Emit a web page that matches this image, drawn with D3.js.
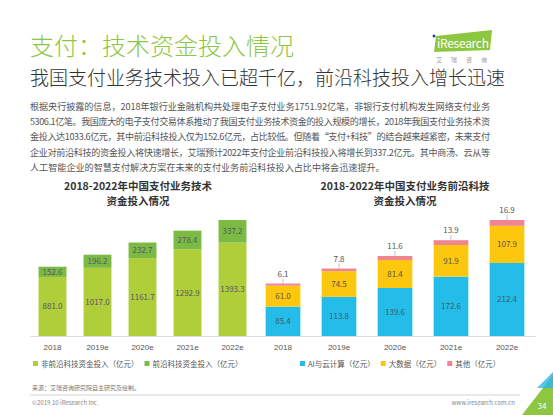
<!DOCTYPE html>
<html><head><meta charset="utf-8">
<script src="https://cdn.jsdelivr.net/npm/d3@7"></script>
<style>
body{margin:0;background:#fff;font-family:"Noto Sans CJK SC","Noto Sans",sans-serif;}
</style></head>
<body><div id="chart"></div>
<script>
let width = 553, height = 415;

let years = ["2018","2019e","2020e","2021e","2022e"];
let nonFrontier = [881.0,1017.0,1161.7,1292.9,1393.3];
let frontier = [152.6,196.2,232.7,278.4,337.2];
let aiCloud = [85.4,113.8,139.6,172.6,212.4];
let bigData = [61.0,74.5,81.4,91.9,107.9];
let others = [6.1,7.8,11.6,13.9,16.9];

let paragraph = [
  "根据央行披露的信息，2018年银行业金融机构共处理电子支付业务1751.92亿笔，非银行支付机构发生网络支付业务",
  "5306.1亿笔。我国庞大的电子支付交易体系推动了我国支付业务技术资金的投入规模的增长，2018年我国支付业务技术资",
  "金投入达1033.6亿元，其中前沿科技投入仅为152.6亿元，占比较低。但随着“支付+科技”的结合越来越紧密，未来支付",
  "企业对前沿科技的资金投入将快速增长，艾瑞预计2022年支付企业前沿科技投入将增长到337.2亿元。其中商汤、云从等",
  "人工智能企业的智慧支付解决方案在未来的支付业务前沿科技投入占比中将会迅速提升。"
];

let svg = d3.select("#chart").append("svg").attr("width",width).attr("height",height);

// header
svg.append("text").attr("x",30).attr("y",55).attr("font-size",24).attr("font-weight",300).attr("fill","#8dc63f").text("支付：技术资金投入情况");
svg.append("text").attr("x",30).attr("y",85).attr("font-size",19).attr("font-weight",300).attr("fill","#333").text("我国支付业务技术投入已超千亿，前沿科技投入增长迅速");
paragraph.forEach((t,i)=>{
  svg.append("text").attr("x",30).attr("y",110+i*15.2).attr("font-size",9.1).attr("fill","#555")
     .attr("textLength",i<4?460:null).text(t);
});
// logo
svg.append("polygon").attr("points","436,36 492,30 490,50 434,52").attr("fill","#8dc63f");
svg.append("text").attr("x",437).attr("y",48).attr("font-size",12).attr("fill","#fff").attr("textLength",52).text("iResearch");
svg.append("circle").attr("cx",434).attr("cy",36).attr("r",1.5).attr("fill","#1a4c8c");
svg.append("text").attr("x",436).attr("y",62).attr("font-size",6).attr("fill","#999").attr("letter-spacing",9).text("艾瑞咨询");

function chartTitle(x,lines){
  lines.forEach((l,i)=>svg.append("text").attr("x",x).attr("y",190+i*15).attr("text-anchor","middle")
    .attr("font-size",10.5).attr("font-weight","bold").attr("fill","#333").text(l));
}
chartTitle(138,["2018-2022年中国支付业务技术","资金投入情况"]);
chartTitle(405,["2018-2022年中国支付业务前沿科技","资金投入情况"]);

let base = 336;

function drawChart(x0,x1,maxVal,series,colors,barW,labelColors,topLabelAbove){
  let x = d3.scaleBand().domain(years).range([x0,x1]).paddingInner(1-barW).paddingOuter((1-barW)/2);
  let y = d3.scaleLinear().domain([0,maxVal]).range([base,220]);
  let stack = d3.stack().keys(series.map((s,i)=>i))(years.map((yr,j)=>{
    let o = {}; series.forEach((s,i)=>o[i]=s[j]); return o;
  }));
  let g = svg.append("g");
  stack.forEach((layer,i)=>{
    g.selectAll(null).data(layer).join("rect")
      .attr("x",(d,j)=>x(years[j])).attr("width",x.bandwidth())
      .attr("y",d=>y(d[1])).attr("height",d=>y(d[0])-y(d[1])).attr("fill",colors[i]);
    g.selectAll(null).data(layer).join("text")
      .attr("x",(d,j)=>x(years[j])+x.bandwidth()/2)
      .attr("y",d=> (topLabelAbove && i==series.length-1) ? y(d[1])-7 : (y(d[0])+y(d[1]))/2+3)
      .attr("text-anchor","middle").attr("font-size",8).attr("fill",labelColors[i])
      .text((d,j)=>series[i][j].toFixed(1));
  });
  let ax = g.append("g").attr("transform",`translate(0,${base})`).call(d3.axisBottom(x).tickSize(0).tickPadding(8));
  ax.select(".domain").attr("stroke","#ddd");
  ax.selectAll("text").attr("font-size",8).attr("fill","#555");
  return {x,y};
}
drawChart(30,255,1730.5,[nonFrontier,frontier],["#b0ce3a","#7bbb44"],0.62,["#556","#556"],false);
let r = drawChart(255,535,337.2,[aiCloud,bigData,others],["#24bde9","#fdc70e","#ef8590"],0.62,["#3a5a70","#555","#555"],true);
// small ticks from pink segment to label
years.forEach((yr,j)=>{
  let cx = r.x(yr)+r.x.bandwidth()/2, t = r.y(aiCloud[j]+bigData[j]+others[j]);
  svg.append("line").attr("x1",cx).attr("x2",cx).attr("y1",t-5).attr("y2",t).attr("stroke","#999").attr("stroke-width",0.6);
});

function legend(x,items){
  let cx = x;
  items.forEach(it=>{
    svg.append("rect").attr("x",cx).attr("y",361).attr("width",5).attr("height",5).attr("fill",it[1]);
    let t = svg.append("text").attr("x",cx+8).attr("y",367).attr("font-size",7.5).attr("fill","#555").text(it[0]);
    cx += t.node().getComputedTextLength()+14;
  });
}
legend(33,[["非前沿科技资金投入（亿元）","#b0ce3a"],["前沿科技资金投入（亿元）","#7bbb44"]]);
legend(300,[["AI与云计算（亿元）","#24bde9"],["大数据（亿元）","#fdc70e"],["其他（亿元）","#ef8590"]]);

// footer
svg.append("text").attr("x",32).attr("y",390).attr("font-size",6).attr("fill","#777").text("来源：艾瑞咨询研究院自主研究及绘制。");
svg.append("line").attr("x1",30).attr("x2",520).attr("y1",395).attr("y2",395).attr("stroke","#bbb").attr("stroke-width",0.6);
svg.append("text").attr("x",32).attr("y",405).attr("font-size",6).attr("fill","#888").text("©2019.10 iResearch Inc.");
svg.append("text").attr("x",515).attr("y",405).attr("text-anchor","end").attr("font-size",6).attr("fill","#888").text("www.iresearch.com.cn");
svg.append("polygon").attr("points","553,375 553,415 522,415").attr("fill","#8dc63f");
svg.append("polygon").attr("points","553,372 553,388 537,388").attr("fill","#29b6e8").attr("opacity",0.8);
svg.append("text").attr("x",542).attr("y",409).attr("text-anchor","middle").attr("font-size",8).attr("fill","#fff").text("34");
</script></body></html>
